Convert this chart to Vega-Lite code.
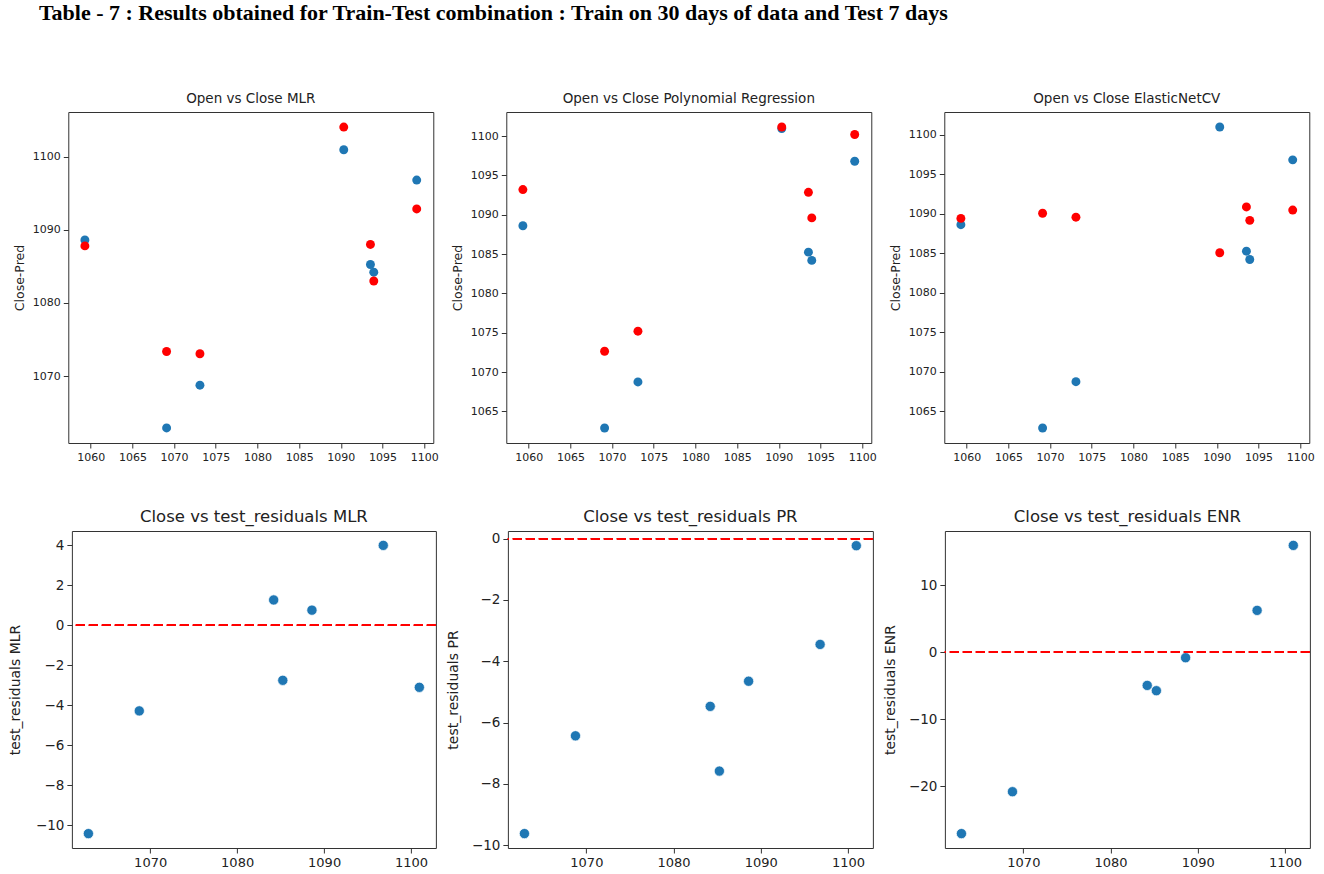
{
  "$schema": "https://vega.github.io/schema/vega-lite/v6.json",
  "padding": {"left": 7, "top": 2, "right": 0, "bottom": 0},
  "background": "white",
  "title": {
    "text": "Table - 7 : Results obtained for Train-Test combination : Train on 30 days of data and Test 7 days",
    "font": "Liberation Serif", "fontSize": 22, "fontWeight": "bold", "color": "#000",
    "anchor": "start", "dx": 31, "offset": 66
  },
  "datasets": {
    "pred": [
      {"model": "MLR", "open": 1059.3, "close": 1088.6, "pred": 1087.8},
      {"model": "MLR", "open": 1069.1, "close": 1062.9, "pred": 1073.35},
      {"model": "MLR", "open": 1073.1, "close": 1068.75, "pred": 1073.05},
      {"model": "MLR", "open": 1090.35, "close": 1100.95, "pred": 1104.05},
      {"model": "MLR", "open": 1093.55, "close": 1085.25, "pred": 1088.0},
      {"model": "MLR", "open": 1093.95, "close": 1084.2, "pred": 1083.0},
      {"model": "MLR", "open": 1099.1, "close": 1096.8, "pred": 1092.85},
      {"model": "PR", "open": 1059.3, "close": 1088.6, "pred": 1093.2},
      {"model": "PR", "open": 1069.1, "close": 1062.9, "pred": 1072.65},
      {"model": "PR", "open": 1073.1, "close": 1068.75, "pred": 1075.2},
      {"model": "PR", "open": 1090.35, "close": 1100.95, "pred": 1101.15},
      {"model": "PR", "open": 1093.55, "close": 1085.25, "pred": 1092.85},
      {"model": "PR", "open": 1093.95, "close": 1084.2, "pred": 1089.6},
      {"model": "PR", "open": 1099.1, "close": 1096.8, "pred": 1100.2},
      {"model": "ENR", "open": 1059.3, "close": 1088.6, "pred": 1089.4},
      {"model": "ENR", "open": 1069.1, "close": 1062.9, "pred": 1090.05},
      {"model": "ENR", "open": 1073.1, "close": 1068.75, "pred": 1089.55},
      {"model": "ENR", "open": 1090.35, "close": 1100.95, "pred": 1085.05},
      {"model": "ENR", "open": 1093.55, "close": 1085.25, "pred": 1090.85},
      {"model": "ENR", "open": 1093.95, "close": 1084.2, "pred": 1089.15},
      {"model": "ENR", "open": 1099.1, "close": 1096.8, "pred": 1090.45}
    ],
    "resid": [
      {"model": "MLR", "close": 1062.9, "resid": -10.42},
      {"model": "MLR", "close": 1068.75, "resid": -4.28},
      {"model": "MLR", "close": 1084.2, "resid": 1.27},
      {"model": "MLR", "close": 1085.25, "resid": -2.75},
      {"model": "MLR", "close": 1088.6, "resid": 0.76},
      {"model": "MLR", "close": 1096.8, "resid": 4.0},
      {"model": "MLR", "close": 1100.95, "resid": -3.1},
      {"model": "PR", "close": 1062.9, "resid": -9.62},
      {"model": "PR", "close": 1068.75, "resid": -6.43},
      {"model": "PR", "close": 1084.2, "resid": -5.47},
      {"model": "PR", "close": 1085.25, "resid": -7.58},
      {"model": "PR", "close": 1088.6, "resid": -4.65},
      {"model": "PR", "close": 1096.8, "resid": -3.45},
      {"model": "PR", "close": 1100.95, "resid": -0.23},
      {"model": "ENR", "close": 1062.9, "resid": -27.1},
      {"model": "ENR", "close": 1068.75, "resid": -20.85},
      {"model": "ENR", "close": 1084.2, "resid": -4.98},
      {"model": "ENR", "close": 1085.25, "resid": -5.77},
      {"model": "ENR", "close": 1088.6, "resid": -0.85},
      {"model": "ENR", "close": 1096.8, "resid": 6.22},
      {"model": "ENR", "close": 1100.95, "resid": 15.92}
    ]
  },
  "spacing": 45,
  "center": true,
  "vconcat": [
    {
      "bounds": "flush",
      "spacing": 73,
      "hconcat": [
        {
          "title": {"text": "Open vs Close MLR", "fontSize": 13.5, "offset": 7},
          "width": 365, "height": 331,
          "data": {"name": "pred"},
          "transform": [{"filter": "datum.model == 'MLR'"}],
          "encoding": {
            "x": {"field": "open", "type": "quantitative", "scale": {"domain": [1057.31, 1101.09], "nice": false, "zero": false}, "axis": {"title": null, "values": [1060, 1065, 1070, 1075, 1080, 1085, 1090, 1095, 1100], "format": "d", "labelFontSize": 11}}
          },
          "layer": [
            {"mark": {"type": "circle", "size": 80, "opacity": 1, "color": "#1f77b4"},
             "encoding": {"y": {"field": "close", "type": "quantitative", "scale": {"domain": [1060.84, 1106.11], "nice": false, "zero": false}, "axis": {"title": "Close-Pred", "titleFontSize": 12.5, "values": [1070, 1080, 1090, 1100], "format": "d", "labelFontSize": 11, "titlePadding": 6}}}},
            {"mark": {"type": "circle", "size": 80, "opacity": 1, "color": "red"},
             "encoding": {"y": {"field": "pred", "type": "quantitative"}}}
          ]
        },
        {
          "title": {"text": "Open vs Close Polynomial Regression", "fontSize": 13.5, "offset": 7},
          "width": 365, "height": 331,
          "data": {"name": "pred"},
          "transform": [{"filter": "datum.model == 'PR'"}],
          "encoding": {
            "x": {"field": "open", "type": "quantitative", "scale": {"domain": [1057.31, 1101.09], "nice": false, "zero": false}, "axis": {"title": null, "values": [1060, 1065, 1070, 1075, 1080, 1085, 1090, 1095, 1100], "format": "d", "labelFontSize": 11}}
          },
          "layer": [
            {"mark": {"type": "circle", "size": 80, "opacity": 1, "color": "#1f77b4"},
             "encoding": {"y": {"field": "close", "type": "quantitative", "scale": {"domain": [1060.99, 1103.06], "nice": false, "zero": false}, "axis": {"title": "Close-Pred", "titleFontSize": 12.5, "values": [1065, 1070, 1075, 1080, 1085, 1090, 1095, 1100], "format": "d", "labelFontSize": 11, "titlePadding": 6}}}},
            {"mark": {"type": "circle", "size": 80, "opacity": 1, "color": "red"},
             "encoding": {"y": {"field": "pred", "type": "quantitative"}}}
          ]
        },
        {
          "title": {"text": "Open vs Close ElasticNetCV", "fontSize": 13.5, "offset": 7},
          "width": 365, "height": 331,
          "data": {"name": "pred"},
          "transform": [{"filter": "datum.model == 'ENR'"}],
          "encoding": {
            "x": {"field": "open", "type": "quantitative", "scale": {"domain": [1057.31, 1101.09], "nice": false, "zero": false}, "axis": {"title": null, "values": [1060, 1065, 1070, 1075, 1080, 1085, 1090, 1095, 1100], "format": "d", "labelFontSize": 11}}
          },
          "layer": [
            {"mark": {"type": "circle", "size": 80, "opacity": 1, "color": "#1f77b4"},
             "encoding": {"y": {"field": "close", "type": "quantitative", "scale": {"domain": [1061.0, 1102.85], "nice": false, "zero": false}, "axis": {"title": "Close-Pred", "titleFontSize": 12.5, "values": [1065, 1070, 1075, 1080, 1085, 1090, 1095, 1100], "format": "d", "labelFontSize": 11, "titlePadding": 6}}}},
            {"mark": {"type": "circle", "size": 80, "opacity": 1, "color": "red"},
             "encoding": {"y": {"field": "pred", "type": "quantitative"}}}
          ]
        }
      ]
    },
    {
      "bounds": "flush",
      "spacing": 72,
      "hconcat": [
        {
          "title": {"text": "Close vs test_residuals MLR", "fontSize": 16.5, "offset": 6},
          "width": 364, "height": 317,
          "data": {"name": "resid"},
          "transform": [{"filter": "datum.model == 'MLR'"}],
          "layer": [
            {"mark": {"type": "circle", "size": 105, "opacity": 1, "color": "#1f77b4", "stroke": "white", "strokeWidth": 0.7},
             "encoding": {
               "x": {"field": "close", "type": "quantitative", "scale": {"domain": [1061.0, 1102.85], "nice": false, "zero": false}, "axis": {"title": null, "values": [1070, 1080, 1090, 1100], "format": "d", "labelFontSize": 13}},
               "y": {"field": "resid", "type": "quantitative", "scale": {"domain": [-11.14, 4.72], "nice": false, "zero": false}, "axis": {"title": "test_residuals MLR", "titleFontSize": 14, "values": [-10, -8, -6, -4, -2, 0, 2, 4], "format": "d", "labelExpr": "replace(datum.label, '-', '−')", "labelFontSize": 13.5, "titlePadding": 13}}
             }},
            {"mark": {"type": "rule", "color": "red", "strokeDash": [9, 4], "strokeWidth": 1.5},
             "encoding": {"y": {"datum": 0}}}
          ]
        },
        {
          "title": {"text": "Close vs test_residuals PR", "fontSize": 16.5, "offset": 6},
          "width": 365, "height": 317,
          "data": {"name": "resid"},
          "transform": [{"filter": "datum.model == 'PR'"}],
          "layer": [
            {"mark": {"type": "circle", "size": 105, "opacity": 1, "color": "#1f77b4", "stroke": "white", "strokeWidth": 0.7},
             "encoding": {
               "x": {"field": "close", "type": "quantitative", "scale": {"domain": [1061.0, 1102.85], "nice": false, "zero": false}, "axis": {"title": null, "values": [1070, 1080, 1090, 1100], "format": "d", "labelFontSize": 13}},
               "y": {"field": "resid", "type": "quantitative", "scale": {"domain": [-10.09, 0.25], "nice": false, "zero": false}, "axis": {"title": "test_residuals PR", "titleFontSize": 14, "values": [-10, -8, -6, -4, -2, 0], "format": "d", "labelExpr": "replace(datum.label, '-', '−')", "labelFontSize": 13.5, "titlePadding": 11}}
             }},
            {"mark": {"type": "rule", "color": "red", "strokeDash": [9, 4], "strokeWidth": 1.5},
             "encoding": {"y": {"datum": 0}}}
          ]
        },
        {
          "title": {"text": "Close vs test_residuals ENR", "fontSize": 16.5, "offset": 6},
          "width": 365, "height": 317,
          "data": {"name": "resid"},
          "transform": [{"filter": "datum.model == 'ENR'"}],
          "layer": [
            {"mark": {"type": "circle", "size": 105, "opacity": 1, "color": "#1f77b4", "stroke": "white", "strokeWidth": 0.7},
             "encoding": {
               "x": {"field": "close", "type": "quantitative", "scale": {"domain": [1061.0, 1102.85], "nice": false, "zero": false}, "axis": {"title": null, "values": [1070, 1080, 1090, 1100], "format": "d", "labelFontSize": 13}},
               "y": {"field": "resid", "type": "quantitative", "scale": {"domain": [-29.25, 18.07], "nice": false, "zero": false}, "axis": {"title": "test_residuals ENR", "titleFontSize": 14, "values": [-20, -10, 0, 10], "format": "d", "labelExpr": "replace(datum.label, '-', '−')", "labelFontSize": 13.5, "titlePadding": 11}}
             }},
            {"mark": {"type": "rule", "color": "red", "strokeDash": [9, 4], "strokeWidth": 1.5},
             "encoding": {"y": {"datum": 0}}}
          ]
        }
      ]
    }
  ],
  "config": {
    "font": "DejaVu Sans",
    "view": {"stroke": "#333", "strokeWidth": 1},
    "axis": {"grid": false, "domain": false, "ticks": true, "tickColor": "#333", "tickSize": 5, "tickWidth": 1, "labelColor": "#222", "titleColor": "#222", "titleFontWeight": "normal", "labelPadding": 3, "labelFlush": false, "labelOverlap": false},
    "title": {"fontWeight": "normal", "color": "#222", "font": "DejaVu Sans"}
  }
}
